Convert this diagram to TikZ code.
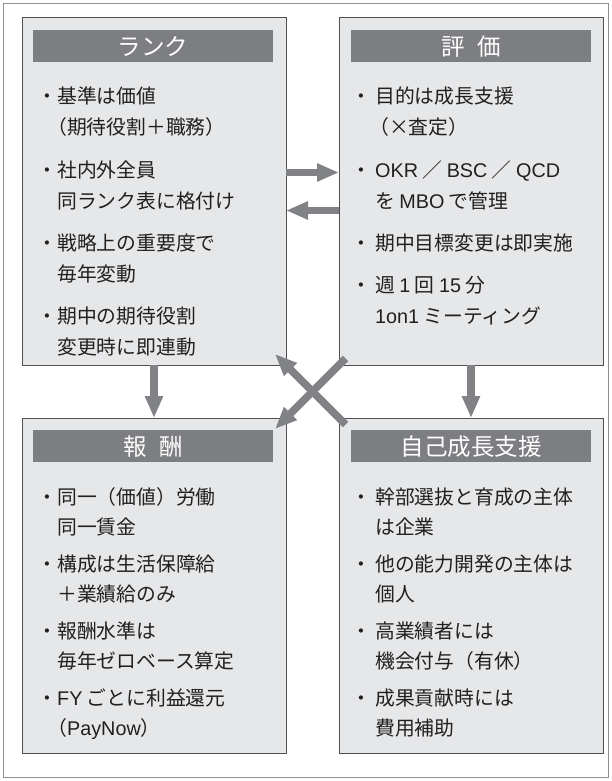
\documentclass[tikz,border=0pt]{standalone}
\usepackage{fontspec}
\setmainfont{Noto Sans CJK JP}
\newfontfamily\lat{Liberation Sans}
\usetikzlibrary{arrows.meta,calc}
\definecolor{boxfill}{RGB}{230,231,232}
\definecolor{boxline}{RGB}{80,80,82}
\definecolor{hdrfill}{RGB}{125,126,129}
\definecolor{arrgray}{RGB}{128,130,133}
\definecolor{framegray}{RGB}{140,142,144}
\definecolor{txt}{RGB}{35,31,32}
\newcommand\bul{\llap{・}}
\newcommand\bulr{\llap{・\kern4pt}}
\begin{document}
\begin{tikzpicture}[x=1pt,y=-1pt,
  box/.style={draw=boxline, line width=1pt, fill=boxfill, minimum width=264pt, anchor=north west, inner sep=0pt, outer sep=0pt},
  hdr/.style={fill=hdrfill, text=white, minimum width=240pt, minimum height=32pt, inner sep=0pt, anchor=north west, font=\fontsize{23.5}{28}\selectfont},
  ln/.style={anchor=base west, inner sep=0pt, text=txt, font=\fontsize{19.8}{24}\selectfont},
  arr/.style={draw=arrgray, line width=7.5pt, -{Triangle[length=22pt,width=17pt]}},
  frm/.style={draw=framegray, line width=1.2pt}]
\useasboundingbox (0,0) rectangle (612,781);
\draw[frm] (3.5,3.5) rectangle (608.5,777.5);

% boxes
\node[box, minimum height=347pt] (rank) at (22,18) {};
\node[box, minimum height=347pt] (eval) at (339,18) {};
\node[box, minimum height=335pt] (pay)  at (22,418) {};
\node[box, minimum height=335pt] (grow) at (339,418) {};

% headers
\node[hdr] (rankh) at (33,30) {ランク};
\node[hdr] (evalh) at (351,30) {評\hspace{0.55em}価};
\node[hdr] (payh)  at (33,430) {報\hspace{0.55em}酬};
\node[hdr] (growh) at (351,430) {自己成長支援};

% rank text
\node[ln] (r1) at (57,103.5) {\bul 基準は価値};
\node[ln] (r2) at (57,135) {\kern-0.5em（期待役割＋職務）};
\node[ln] (r3) at (57,177) {\bul 社内外全員};
\node[ln] (r4) at (57,208) {同ランク表に格付け};
\node[ln] (r5) at (57,250) {\bul 戦略上の重要度で};
\node[ln] (r6) at (57,281) {毎年変動};
\node[ln] (r7) at (57,323) {\bul 期中の期待役割};
\node[ln] (r8) at (57,354) {変更時に即連動};

% eval text
\node[ln] (e1) at (375,103.5) {\bulr 目的は成長支援};
\node[ln] (e2) at (375,135) {\kern-0.3em（×査定）};
\node[ln] (e3) at (375,177) {\bulr {\lat OKR} ／ {\lat BSC} ／ {\lat QCD}};
\node[ln] (e4) at (375,208) {を {\lat MBO} で管理};
\node[ln] (e5) at (375,250) {\bulr 期中目標変更は即実施};
\node[ln] (e6) at (375,292) {\bulr 週 {\lat 1} 回 {\lat 15} 分};
\node[ln] (e7) at (375,323) {{\lat 1on1} ミーティング};

% pay text
\node[ln] (p1) at (57,504.5) {\bul 同一（価値）労働};
\node[ln] (p2) at (57,534) {同一賃金};
\node[ln] (p3) at (57,571.5) {\bul 構成は生活保障給};
\node[ln] (p4) at (57,601) {＋業績給のみ};
\node[ln] (p5) at (57,638.5) {\bul 報酬水準は};
\node[ln] (p6) at (57,668) {毎年ゼロベース算定};
\node[ln] (p7) at (57,705.5) {\bul {\lat FY} ごとに利益還元};
\node[ln] (p8) at (57,735) {\kern-0.5em（{\lat PayNow}）};

% grow text
\node[ln] (g1) at (375,504.5) {\bulr 幹部選抜と育成の主体};
\node[ln] (g2) at (375,534) {は企業};
\node[ln] (g3) at (375,571.5) {\bulr 他の能力開発の主体は};
\node[ln] (g4) at (375,601) {個人};
\node[ln] (g5) at (375,638.5) {\bulr 高業績者には};
\node[ln] (g6) at (375,668) {機会付与（有休）};
\node[ln] (g7) at (375,705.5) {\bulr 成果貢献時には};
\node[ln] (g8) at (375,735) {費用補助};

% arrows
\draw[arr] ([yshift=-154.5pt]rank.north east) -- ([yshift=-154.5pt]eval.north west);
\draw[arr] ([yshift=-192.5pt]eval.north west) -- ([yshift=-192.5pt]rank.north east);
\draw[arr] (rank.south) -- (pay.north);
\draw[arr] (eval.south) -- (grow.north);
\draw[arr] ($(eval.south west)+(6.5,-6.5)$) -- ($(pay.north east)+(-11,11)$);
\draw[arr] ($(grow.north west)+(6.5,6.5)$) -- ($(rank.south east)+(-11,-11)$);
\end{tikzpicture}
\end{document}
